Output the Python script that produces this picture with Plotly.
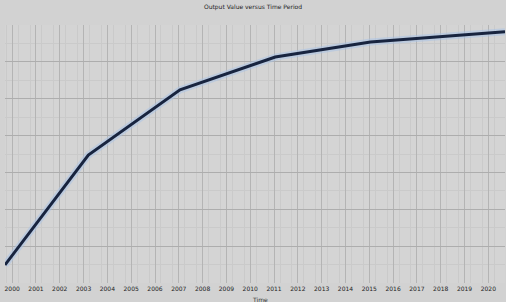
import plotly.graph_objects as go

years = [str(y) for y in range(2000, 2021)]
x_vals = [-0.3, 3.2, 7.05, 11.05, 15.05, 20.7]
y_vals = [0.49, 3.47, 5.24, 6.13, 6.54, 6.82]
title_text = "Output Value versus Time Period"
x_title = "Time"

fig = go.Figure()
fig.add_trace(go.Scatter(
    x=x_vals, y=y_vals, mode="lines",
    line=dict(color="rgba(170,195,230,0.55)", width=7),
    hoverinfo="skip", showlegend=False))
fig.add_trace(go.Scatter(
    x=x_vals, y=y_vals, mode="lines",
    line=dict(color="#18243f", width=3),
    showlegend=False))

fig.update_layout(
    width=506, height=302,
    margin=dict(l=5, r=1, t=25, b=19, autoexpand=False),
    paper_bgcolor="#d2d2d2",
    plot_bgcolor="#d4d4d4",
    font=dict(family="DejaVu Sans", size=6, color="#222222"),
    title=dict(text=title_text, x=0.5, xanchor="center", y=0.985, yanchor="top",
               font=dict(size=6, color="#222222")),
    xaxis=dict(
        range=[-0.3, 20.7], automargin=False,
        tickmode="array", tickvals=list(range(len(years))), ticktext=years,
        showgrid=True, gridcolor="#b4b4b4", gridwidth=1,
        minor=dict(dtick=0.5, tick0=0.25, showgrid=True, gridcolor="#cacaca", gridwidth=1),
        zeroline=False, showline=False, ticks="",
        tickfont=dict(size=6, color="#222222"), ticklabelstandoff=1,
    ),
    yaxis=dict(
        range=[0, 7], dtick=1, automargin=False,
        showgrid=True, gridcolor="#adadad", gridwidth=1,
        minor=dict(dtick=0.5, showgrid=True, gridcolor="#cacaca", gridwidth=1),
        zeroline=False, showline=False, showticklabels=False, ticks="",
    ),
    annotations=[dict(text=x_title, xref="paper", yref="paper", x=0.51, y=0,
                      yanchor="top", yshift=-11, showarrow=False,
                      font=dict(size=6, color="#333333"))],
)

fig.write_html("out.html", config={"displayModeBar": False},
               post_script="document.body.style.margin='0';document.body.style.overflow='hidden';")
